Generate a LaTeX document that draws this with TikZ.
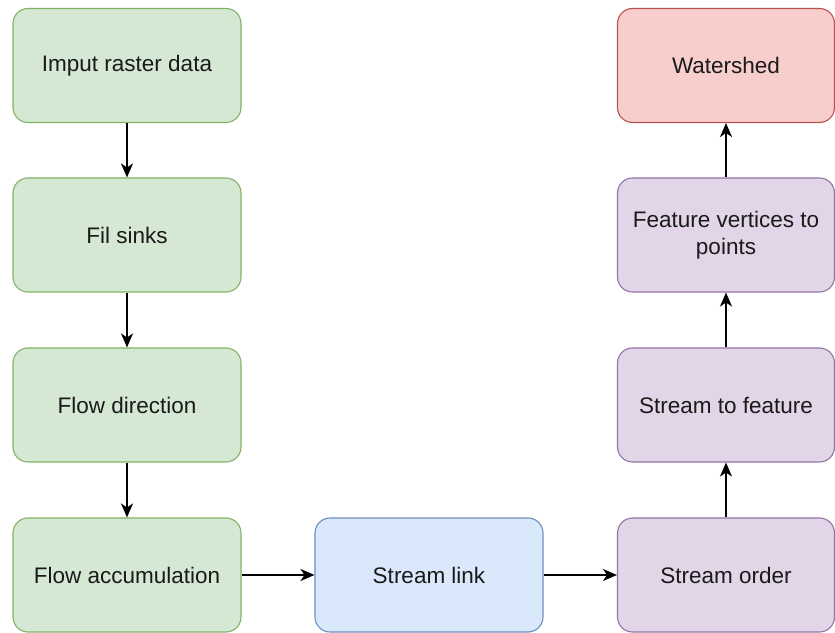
\documentclass[tikz,border=0pt]{standalone}
\usepackage{fontspec}
\setmainfont{Liberation Sans}
\usetikzlibrary{arrows.meta}
\definecolor{gfill}{HTML}{D5E8D4}\definecolor{gdraw}{HTML}{82B366}
\definecolor{bfill}{HTML}{DAE8FC}\definecolor{bdraw}{HTML}{6C8EBF}
\definecolor{pfill}{HTML}{E1D5E7}\definecolor{pdraw}{HTML}{9673A6}
\definecolor{rfill}{HTML}{F8CECC}\definecolor{rdraw}{HTML}{B85450}
\definecolor{txt}{HTML}{1A1A1A}
\tikzset{
  box/.style={rectangle, rounded corners=15pt, line width=1.1pt, minimum width=228pt, minimum height=114pt,
    align=center, text=txt, font=\fontsize{22.5}{27}\selectfont, inner sep=2pt},
  gbox/.style={box, fill=gfill, draw=gdraw},
  bbox/.style={box, fill=bfill, draw=bdraw},
  pbox/.style={box, fill=pfill, draw=pdraw, minimum width=217pt},
  rbox/.style={box, fill=rfill, draw=rdraw, minimum width=217pt},
  conn/.style={line width=1.4pt, -{Stealth[length=14pt,width=12pt,inset=4pt]}}
}
\begin{document}
\begin{tikzpicture}[x=1pt,y=1pt]
\useasboundingbox (0,0) rectangle (835,632);
\node[gbox] (a) at (127,566.5) {Imput raster data};
\node[gbox] (b) at (127,397) {Fil sinks};
\node[gbox] (c) at (127,227) {Flow direction};
\node[gbox] (d) at (127,57) {Flow accumulation};
\node[bbox] (e) at (429,57) {Stream link};
\node[pbox] (f) at (726,57) {Stream order};
\node[pbox] (g) at (726,227) {Stream to feature};
\node[pbox] (h) at (726,397) {Feature vertices to\\points};
\node[rbox] (i) at (726,566.5) {Watershed};
\draw[conn] (a) -- (b);
\draw[conn] (b) -- (c);
\draw[conn] (c) -- (d);
\draw[conn] (d) -- (e);
\draw[conn] (e) -- (f);
\draw[conn] (f) -- (g);
\draw[conn] (g) -- (h);
\draw[conn] (h) -- (i);
\end{tikzpicture}
\end{document}
